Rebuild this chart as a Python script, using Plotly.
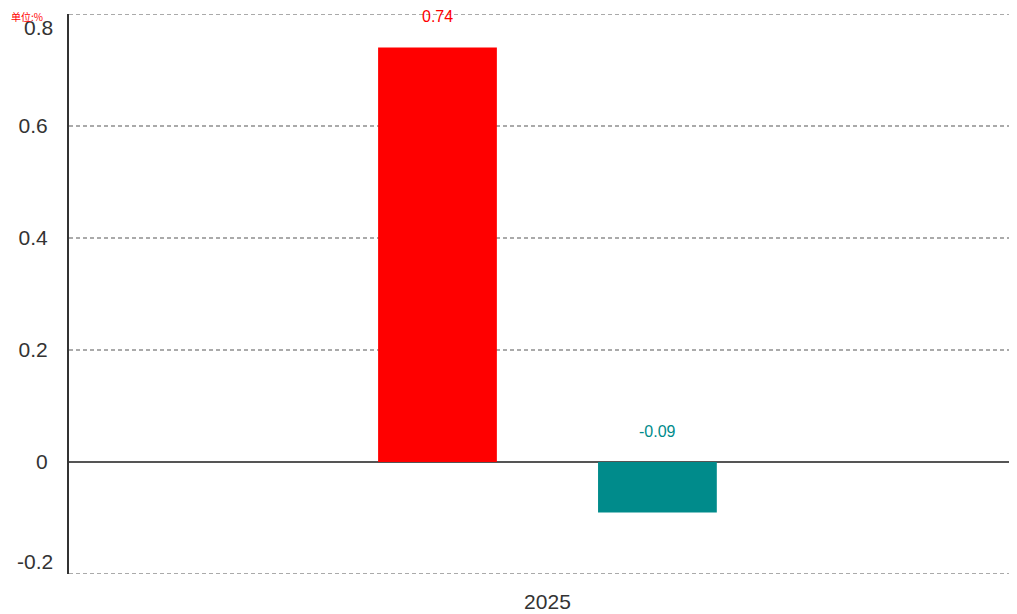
import plotly.graph_objects as go

categories = ["2025"]
series_names = ["A", "B"]
values_a = [0.74]
values_b = [-0.09]
colors = ["#FF0000", "#008B8B"]
y_ticks = [-0.2, 0, 0.2, 0.4, 0.6, 0.8]
y_tick_text = ["-0.2", "0", "0.2", "0.4", "0.6", "0.8"]

GRID = "#aaaaaa"
DASH = "4px,3px"
TXT = "#333333"

fig = go.Figure()
for name, vals, col in zip(series_names, [values_a, values_b], colors):
    fig.add_trace(go.Bar(x=categories, y=vals, name=name, marker_color=col,
                         marker_line_width=0, showlegend=False,
                         hoverinfo="skip"))

# value labels above each bar (or above zero line for negative)
offsets = [-1, 1]
for vals, col, off in zip([values_a, values_b], colors, offsets):
    for i, v in enumerate(vals):
        fig.add_annotation(x=i, y=max(v, 0), xref="x", yref="y",
                           text=f"{v:.2f}", showarrow=False,
                           font=dict(family="Liberation Sans, Arial", size=16, color=col),
                           xshift=off * 110, yshift=31)

# edge gridlines (top and bottom of range)
for yv in [y_ticks[0], y_ticks[-1]]:
    fig.add_shape(type="line", xref="paper", yref="y", x0=0, x1=1, y0=yv, y1=yv,
                  line=dict(color=GRID, width=2, dash=DASH), layer="below")

# edge tick labels are pushed inside the plot range (as in the reference)
tick_text_shown = [t if 0 < i < len(y_ticks) - 1 else "" for i, t in enumerate(y_tick_text)]
for yv, txt, sh in [(y_ticks[0], y_tick_text[0], 13), (y_ticks[-1], y_tick_text[-1], -13)]:
    fig.add_annotation(x=0, y=yv, xref="paper", yref="y", text=txt, showarrow=False,
                       xanchor="right", yanchor="middle", xshift=-15, yshift=sh,
                       borderpad=0,
                       font=dict(family="Liberation Sans, Arial", size=21, color=TXT))

fig.add_annotation(x=0, y=1, xref="paper", yref="paper", text="单位:%",
                   showarrow=False, xanchor="left", yanchor="top",
                   xshift=-59, yshift=6, borderpad=0,
                   font=dict(family="Noto Sans CJK SC", size=10, color="#FF0000"))

fig.update_layout(
    width=1009, height=606,
    margin=dict(l=61, r=0, t=6, b=40, autoexpand=False),
    paper_bgcolor="white", plot_bgcolor="white",
    barmode="group", bargap=0.536, bargroupgap=0.46,
    font=dict(family="Liberation Sans, Arial", size=21, color=TXT),
    xaxis=dict(type="category", range=[-0.5047, 0.4953], showgrid=False,
               showline=False, ticks="", ticklabelstandoff=13,
               tickfont=dict(size=21, color=TXT)),
    yaxis=dict(range=[-0.2, 0.8], tickvals=y_ticks, ticktext=tick_text_shown,
               showgrid=True, gridcolor=GRID, gridwidth=2, griddash=DASH,
               zeroline=True, zerolinecolor="#555", zerolinewidth=2,
               showline=True, linecolor=TXT, linewidth=2,
               ticks="", ticklabelstandoff=15,
               tickfont=dict(size=21, color=TXT)),
)

fig.write_html("out.html")
